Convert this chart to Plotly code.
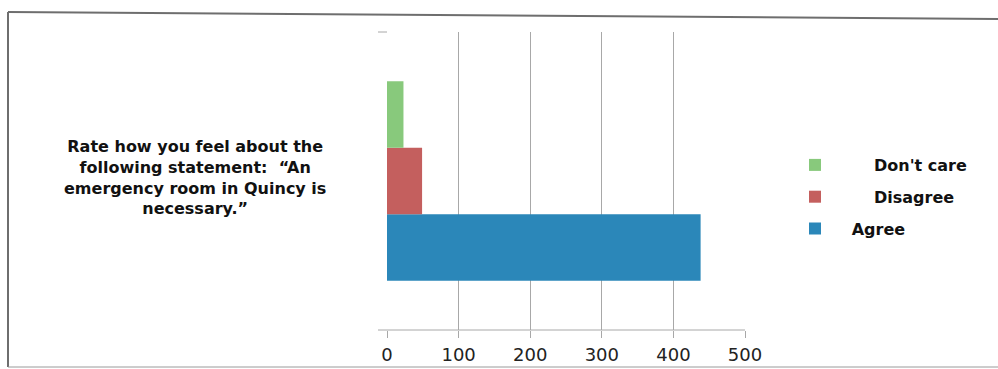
import plotly.graph_objects as go

# Survey responses (count of respondents)
question = "Rate how you feel about the<br>following statement:  \u201cAn<br>emergency room in Quincy is<br>necessary.\u201d"
responses = ["Agree", "Disagree", "Don't care"]
counts = [438, 49, 23]
colors = ["#2b87b9", "#c45f5e", "#88c97c"]
legend_ranks = [3, 2, 1]
nb = "\u00a0"
legend_labels = [nb * 3 + "Agree", nb * 7 + "Disagree", nb * 7 + "Don't care"]
x_ticks = [0, 100, 200, 300, 400, 500]

W, H = 998, 369
L, R, T, B = 387, 253, 32, 39

fig = go.Figure()
for name, lab, val, col, rank in zip(responses, legend_labels, counts, colors, legend_ranks):
    fig.add_trace(go.Bar(
        y=[question], x=[val], name=lab, orientation="h",
        marker=dict(color=col, line=dict(width=0)),
        legendgroup=name, legendrank=rank,
    ))

fig.update_layout(
    width=W, height=H,
    margin=dict(l=L, r=R, t=T, b=B, pad=0, autoexpand=False),
    paper_bgcolor="white", plot_bgcolor="white",
    barmode="group", bargap=0.33, bargroupgap=0,
    font=dict(family="DejaVu Sans", color="#111"),
    showlegend=True,
    legend=dict(
        x=(795 - L) / (W - L - R), y=1 - (197 - T) / (H - T - B),
        xanchor="left", yanchor="middle",
        traceorder="grouped", tracegroupgap=8,
        font=dict(size=16, color="#111", weight="bold"),
        bgcolor="rgba(0,0,0,0)",
    ),
    xaxis=dict(
        range=[0, 500], tickvals=x_ticks, showgrid=True, gridcolor="#a8a8a8", gridwidth=1,
        zeroline=False, showline=False, ticks="outside", ticklen=7, tickcolor="#a8a8a8",
        tickfont=dict(size=18, color="#222"), ticklabelstandoff=1, fixedrange=True,
        automargin=False,
    ),
    yaxis=dict(
        showticklabels=False, showgrid=False, zeroline=False, ticks="",
        showline=False, fixedrange=True, automargin=False,
    ),
)

# Question text as the category label, centred over the left margin
fig.add_annotation(
    x=(195 - L) / (W - L - R), xref="paper", y=question, yref="y",
    text=question, showarrow=False, xanchor="center", yanchor="middle", align="center",
    yshift=4,
    font=dict(size=16, color="#111", weight="bold"),
)

# Axis baseline and category-boundary ticks
px = lambda v: (v - L) / (W - L - R)
py = lambda v: 1 - (v - T) / (H - T - B)
line_col = "#a8a8a8"
fig.add_shape(type="line", xref="paper", yref="paper", x0=px(378), x1=1, y0=0, y1=0,
              line=dict(color=line_col, width=1))
fig.add_shape(type="line", xref="paper", yref="paper", x0=px(378), x1=0, y0=1, y1=1,
              line=dict(color=line_col, width=1))

# Outer frame
frame_col = "#6e6e6e"
fig.add_shape(type="line", xref="paper", yref="paper", x0=px(8), x1=px(998), y0=py(12), y1=py(19),
              line=dict(color=frame_col, width=2))
fig.add_shape(type="line", xref="paper", yref="paper", x0=px(8), x1=px(8), y0=py(12), y1=py(367),
              line=dict(color=frame_col, width=2))
fig.add_shape(type="line", xref="paper", yref="paper", x0=px(8), x1=px(998), y0=py(367), y1=py(367),
              line=dict(color="#9a9a9a", width=1))

fig.write_html("out.html")
